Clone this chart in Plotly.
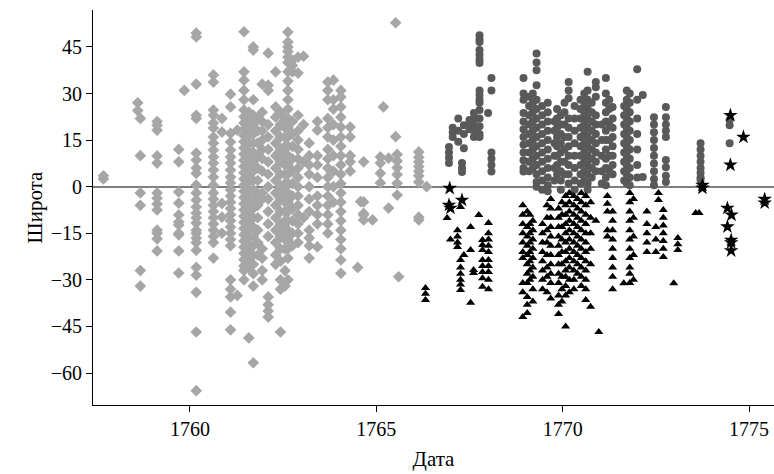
import plotly.graph_objects as go

# Light gray diamonds: (date, [latitudes])
diamond_cols = [
    (1757.68, [2.5, 3.5]),
    (1758.60, [27, 24.5]),
    (1758.67, [22, 10, -2, -6, -27, -32]),
    (1759.12, [21, 19.8, 18.2, 9.9, 7.6, -2, -3.7, -5.6, -7.5, -14, -15, -16.8, -20.7]),
    (1759.70, [12, 8, -1.7, -5.3, -9.1, -11.4, -12.3, -15, -15.5, -20.7, -27.8]),
    (1759.85, [31]),
    (1760.17, [49.5, 48.2, 33, 23, 22, 10.8, 8.6, 6, 4.3, 0.5, -2, -4.3, -6.5, -8.5, -10, -11.7,
               -14, -15, -16.5, -18, -20.5, -26, -28.5, -34, -46.8, -65.7]),
    (1760.63, [36, 33.7, 24.7, 23, 20.5, 18.9, 16, 14, 11.8, 9.6, 7.6, 5.4, 3.1, 0.5, -2, -4, -6,
               -8, -10, -12, -14, -16, -18, -23]),
    (1760.86, [22, 17.6, -5.4, -9.8, -15]),
    (1761.09, [29.8, 25.7, 17.2, 14.4, 11.8, 9.6, 7.6, 5.4, 3.1, 1.2, -1, -3, -5, -7, -9, -11,
               -13, -15, -17, -19, -30, -33, -35.5, -40.4, -46.1]),
    (1761.27, [18.2, -35]),
    (1761.45, [49.9, 37, 34.3, 31, 28, 24.7, 22.5, 20.5, 18.5, 16.5, 14.5, 12.5, 10.5, 8.5, 6.5,
               4.5, 2.5, 0.5, -1.5, -3.5, -5.5, -7.5, -9.5, -11.5, -13.5, -15.5, -17.5, -19.5,
               -21.5, -23.5, -25.5, -27, -30]),
    (1761.58, [24, 21.5, 19, 16.5, 14, 11.5, 9, 6.5, 4, 1.5, -1, -3.5, -6, -8.5, -11, -13.5, -16,
               -18.5, -21, -23.5, -26, -48.7]),
    (1761.70, [45, 44, 28, 23, 20, 17, 14, 11, 8, 5, 2, -1, -4, -7, -10, -13, -16, -19, -22, -25,
               -28, -32, -56.7]),
    (1761.82, [22, 18, 14, 10, 6, 2, -2, -6, -10, -14, -18, -22]),
    (1761.94, [33, 24, 21, 18, 15, 12, 9, 5, -2, -4, -20, -23, -27, -30]),
    (1762.10, [43, 32.7, 31, 20, 16, 12, 8, 4, 0, -4, -8, -12, -16, -35.5, -38, -40, -42]),
    (1762.30, [37, 25.7, 22.4, 18, 14, 10, 6, 2, -2, -6, -10, -14, -18, -22, -25]),
    (1762.43, [24, 20, 16, 12, 8, 4, 0, -4, -8, -12, -16, -20, -24, -30, -33, -46.8]),
    (1762.55, [22, 19, 16, 13, 10, 7, 4, 1, -2, -5, -8, -11, -14, -17, -20, -27, -32]),
    (1762.63, [49.8, 46.6, 45, 43.5, 41.7, 40, 37, 34, 31, 28, 25, 22, 19, 16, 13, 10, 7, 4, 1,
               -2, -5, -8, -11, -14, -17, -20, -23, -30]),
    (1762.75, [40.8, 39, 37, 21, 17, 13, 9, 5, 1, -3, -7, -11, -15, -19]),
    (1762.90, [41.7, 36.6, 23, 18, 15, 12, 9, 6, 3, 0, -3, -6, -9, -12, -15, -18]),
    (1763.05, [42, 20, 8, -10]),
    (1763.20, [14, 10, 7, 4, 0, -4, -8, -14, -16.5, -19, -23]),
    (1763.42, [21, 18.2, 10, 7, 3, -3, -6, -9, -12, -19.4]),
    (1763.70, [33.7, 31, 28, 22, 19, 16, 12, 9, 6, 3, 0, -3, -6, -9, -12, -15]),
    (1763.85, [34.3, 28, 25, 20, 15, 10, 5, 0, -5]),
    (1764.05, [31, 28.9, 25.7, 22.4, 19.2, 16, 13, 10, 7, 4, 1, -2, -5, -8, -11, -14, -17, -20,
               -23.6, -27.9]),
    (1764.30, [19.2, 16, 10, 8, 5]),
    (1764.50, [-26]),
    (1764.58, [-4.8]),
    (1764.66, [8, -4.9, -8.6, -9.1, -10.7]),
    (1764.90, [-10.7]),
    (1765.11, [9.6, 7.6, 4.3, 1.2]),
    (1765.19, [25.7]),
    (1765.33, [9.2, -6.9]),
    (1765.52, [52.8, 16.1]),
    (1765.56, [10.4, 8.3, 6.1, 3.9, 1.1, -2.7]),
    (1765.60, [-29]),
    (1766.14, [11.2, 9.5, 8, 6.5, 5, 3.5, 1.5, -9.8, -10.7]),
    (1766.35, [0]),
]

# Dark gray circles (northern hemisphere)
circle_cols = [
    (1766.95, [12.8, 11, 9.3, 7.6]),
    (1767.05, [19, 17.5, 16]),
    (1767.20, [22, 18, 14.5]),
    (1767.30, [7.6, 6, 4.7]),
    (1767.35, [12.4, 17, 19.8]),
    (1767.50, [21.5, 20, 18.5]),
    (1767.62, [23.7, 22, 20, 18, 16]),
    (1767.77, [48.8, 47.5, 46.6, 44, 42.5, 41, 39.8, 31, 29.5, 28, 27, 24.7, 22, 19.5, 17, 16]),
    (1768.00, [23.7]),
    (1768.09, [35, 31, 11, 9, 7, 4.9]),
    (1768.95, [35, 30, 28, 23.7, 21, 18.5, 16, 13.5, 11, 8.5, 6, 4.9]),
    (1769.10, [29, 26, 23, 20, 17, 14, 11, 8, 5]),
    (1769.20, [30, 27, 24, 21, 18, 15, 12, 9, 6]),
    (1769.30, [42.9, 40, 37.5, 32.7, 28, 25, 22, 19, 16, 13, 10, 7, 4, 1.5, 0]),
    (1769.45, [26, 23, 20, 17, 14, 11, 8, 5, 2, -1]),
    (1769.60, [27, 24, 21, 18, 15, 12, 9, 6, 3, 0.5, -1.5]),
    (1769.78, [21, 18, 14, 10, 6, 2]),
    (1769.85, [25, 22, 19, 16, 13, 10, 7, 4]),
    (1769.95, [23, 20, 17, 14, 11, 8, 5, 2, -1]),
    (1770.05, [27, 24, 20, 16, 12, 8, 4]),
    (1770.16, [33.7, 31, 28.5, 22, 19, 16, 13, 10, 7, 4, 1]),
    (1770.32, [26, 22, 18, 14, 10, 6, 2, -1]),
    (1770.48, [28, 25, 22, 19, 16, 13, 10, 7, 4, 1]),
    (1770.58, [30, 26, 23, 20, 17, 14, 11, 8, 5, 2]),
    (1770.67, [37, 31, 28, 25, 22, 19, 16, 13, 10, 7, 4, 1, -1]),
    (1770.78, [27, 24, 21, 18, 15, 12, 9, 6, 3]),
    (1770.89, [33.7, 32, 29, 23, 20, 17, 14, 11, 8, 5]),
    (1771.05, [20, 15, 10, 5, 1]),
    (1771.16, [35, 30, 27, 24, 21, 18, 15, 12, 9, 6, 3, 0.5]),
    (1771.25, [28, 25, 20, 15, 10, 5]),
    (1771.34, [25.7, 22, 19, 16, 13, 10, 7, 4]),
    (1771.65, [26, 23, 20, 17, 14, 11, 8, 5, 2]),
    (1771.72, [31, 28, 25, 22, 19, 16, 13, 10, 7, 4, 1]),
    (1771.80, [30, 27, 24, 21, 18, 15, 12, 9, 6, 3, 0.5]),
    (1772.00, [37.8, 28, 22, 17, 12, 7, 3]),
    (1772.15, [29.5, 3.1]),
    (1772.45, [22.4, 20, 17.5, 15, 12.5, 10, 7.5, 5, 2.5, 0.5]),
    (1772.77, [25.7, 22.4, 20, 18, 16, 8.6, 6.3, 3.5, 1.5]),
    (1773.70, [14, 12, 10, 8, 6, 4.5, 3, 2.2]),
    (1774.48, [21.5, 19.8, 14]),
]

# Black triangles (southern hemisphere)
triangle_cols = [
    (1766.32, [-32.6, -34.5, -36.5]),
    (1766.90, [-10.1]),
    (1766.99, [-17]),
    (1767.18, [-14, -16, -18, -19.4]),
    (1767.26, [-6.5, -23.6, -26, -28, -30, -31.5, -33.3]),
    (1767.35, [-22]),
    (1767.53, [-13, -20.4, -37.4]),
    (1767.61, [-26.8, -27.8]),
    (1767.75, [-9.1]),
    (1767.85, [-17.2, -18.8, -20.4, -23.6, -25.5, -27.5, -29.5, -32.2]),
    (1768.01, [-11.7, -15, -17, -19, -21, -23.6, -25.5, -27.5, -30, -33]),
    (1768.93, [-6, -9, -12, -15, -18, -21, -23, -31, -34, -42]),
    (1769.05, [-8, -13, -16, -19, -22, -25, -28, -31, -35.5, -38, -40.7]),
    (1769.12, [-9, -12, -15, -18, -21, -24, -27, -30]),
    (1769.20, [-11, -14, -17, -20, -23, -26, -29, -33, -37]),
    (1769.46, [-12, -15, -18, -21, -24, -27, -30, -33]),
    (1769.58, [-6, -10, -14, -18, -22, -26, -29, -34]),
    (1769.68, [-4, -7, -10, -13, -16, -19, -22, -25, -28, -31, -36]),
    (1769.89, [-7, -10, -13, -16, -19, -22, -25, -28, -31, -35, -38, -41]),
    (1769.98, [-5, -9, -13, -17, -21, -25, -29, -33, -37]),
    (1770.08, [-3, -6, -9, -12, -15, -18, -21, -24, -27, -29, -32, -35, -45]),
    (1770.18, [-2, -5, -8, -11, -14, -17, -20, -23, -26, -30, -34]),
    (1770.30, [-3, -6, -9, -12, -15, -18, -21, -24, -27, -30, -33]),
    (1770.40, [-4, -7, -10, -13, -16, -19, -22, -25, -28]),
    (1770.50, [-2, -5, -8, -11, -14, -17, -20, -23, -26, -29, -32]),
    (1770.62, [-3, -6, -9, -12, -15, -18, -21, -24, -27, -30, -33, -36.5]),
    (1770.75, [-5, -10, -15, -20, -25, -38.7]),
    (1770.89, [-11]),
    (1770.97, [-46.8]),
    (1771.20, [-3, -5.5, -8, -14, -16]),
    (1771.34, [-8, -11, -14, -17, -20, -23, -26, -29, -33]),
    (1771.64, [-31.1]),
    (1771.80, [-2, -5, -8, -11, -14, -17, -20, -23, -26, -28, -31]),
    (1771.90, [-4, -10, -16, -22, -30]),
    (1772.26, [-8, -12, -15, -18, -21]),
    (1772.50, [-13, -17, -21]),
    (1772.57, [-2, -4.3]),
    (1772.70, [-7.5, -10, -12.5, -15, -17.5, -20, -22.6]),
    (1772.98, [-31.1]),
    (1773.09, [-16.5, -18.5, -20.4]),
    (1773.57, [-8.5]),
    (1773.66, [-8.5]),
]

# Black stars
star_x = [1766.97, 1767.30, 1766.95, 1766.99, 1773.75, 1773.75, 1774.50, 1774.85, 1774.50,
          1774.42, 1774.53, 1774.42, 1774.52, 1774.52, 1774.52, 1775.42, 1775.42]
star_y = [-0.5, -4.3, -5.9, -6.9, 0.5, -0.4, 23, 16, 7,
          -6.9, -9.1, -12.9, -17.2, -18, -20.6, -4, -5.2]

x_ticks = [1760, 1765, 1770, 1775]
y_ticks = [45, 30, 15, 0, -15, -30, -45, -60]


def flatten(cols):
    xs, ys = [], []
    for d, lats in cols:
        for v in lats:
            xs.append(d)
            ys.append(v)
    return xs, ys


fig = go.Figure()
dx, dy = flatten(diamond_cols)
fig.add_trace(go.Scatter(x=dx, y=dy, mode="markers",
                         marker=dict(symbol="diamond", size=9, color="#a6a6a6", line=dict(width=0))))
cx, cy = flatten(circle_cols)
fig.add_trace(go.Scatter(x=cx, y=cy, mode="markers",
                         marker=dict(symbol="circle", size=8, color="#595959", line=dict(width=0))))
tx, ty = flatten(triangle_cols)
fig.add_trace(go.Scatter(x=tx, y=ty, mode="markers",
                         marker=dict(symbol="triangle-up", size=8, color="#000000", line=dict(width=0))))
fig.add_trace(go.Scatter(x=star_x, y=star_y, mode="markers",
                         marker=dict(symbol="star", size=11, color="#000000", line=dict(width=0))))

font_family = "Liberation Serif, Times New Roman, serif"
fig.update_layout(
    width=774, height=474,
    margin=dict(l=93, r=0, t=10, b=69),
    plot_bgcolor="white", paper_bgcolor="white",
    showlegend=False,
    font=dict(family=font_family, size=20, color="black"),
)
fig.update_xaxes(
    range=[1757.40, 1775.67], tickvals=x_ticks, ticks="outside", ticklen=6,
    tickcolor="black", showline=True, linecolor="black", linewidth=1,
    showgrid=False, zeroline=False, tickfont=dict(size=20),
    title=dict(text="Дата", font=dict(size=21), standoff=12),
)
fig.update_yaxes(
    range=[-70.3, 56.9], tickvals=y_ticks, ticks="outside", ticklen=6,
    tickcolor="black", showline=True, linecolor="black", linewidth=1,
    showgrid=False, zeroline=True, zerolinecolor="#7f7f7f", zerolinewidth=2,
    tickfont=dict(size=20),
    title=dict(text="Широта", font=dict(size=21), standoff=2),
)

fig.write_html("out.html", config={"displayModeBar": False},
               post_script="document.body.style.margin='0';")
